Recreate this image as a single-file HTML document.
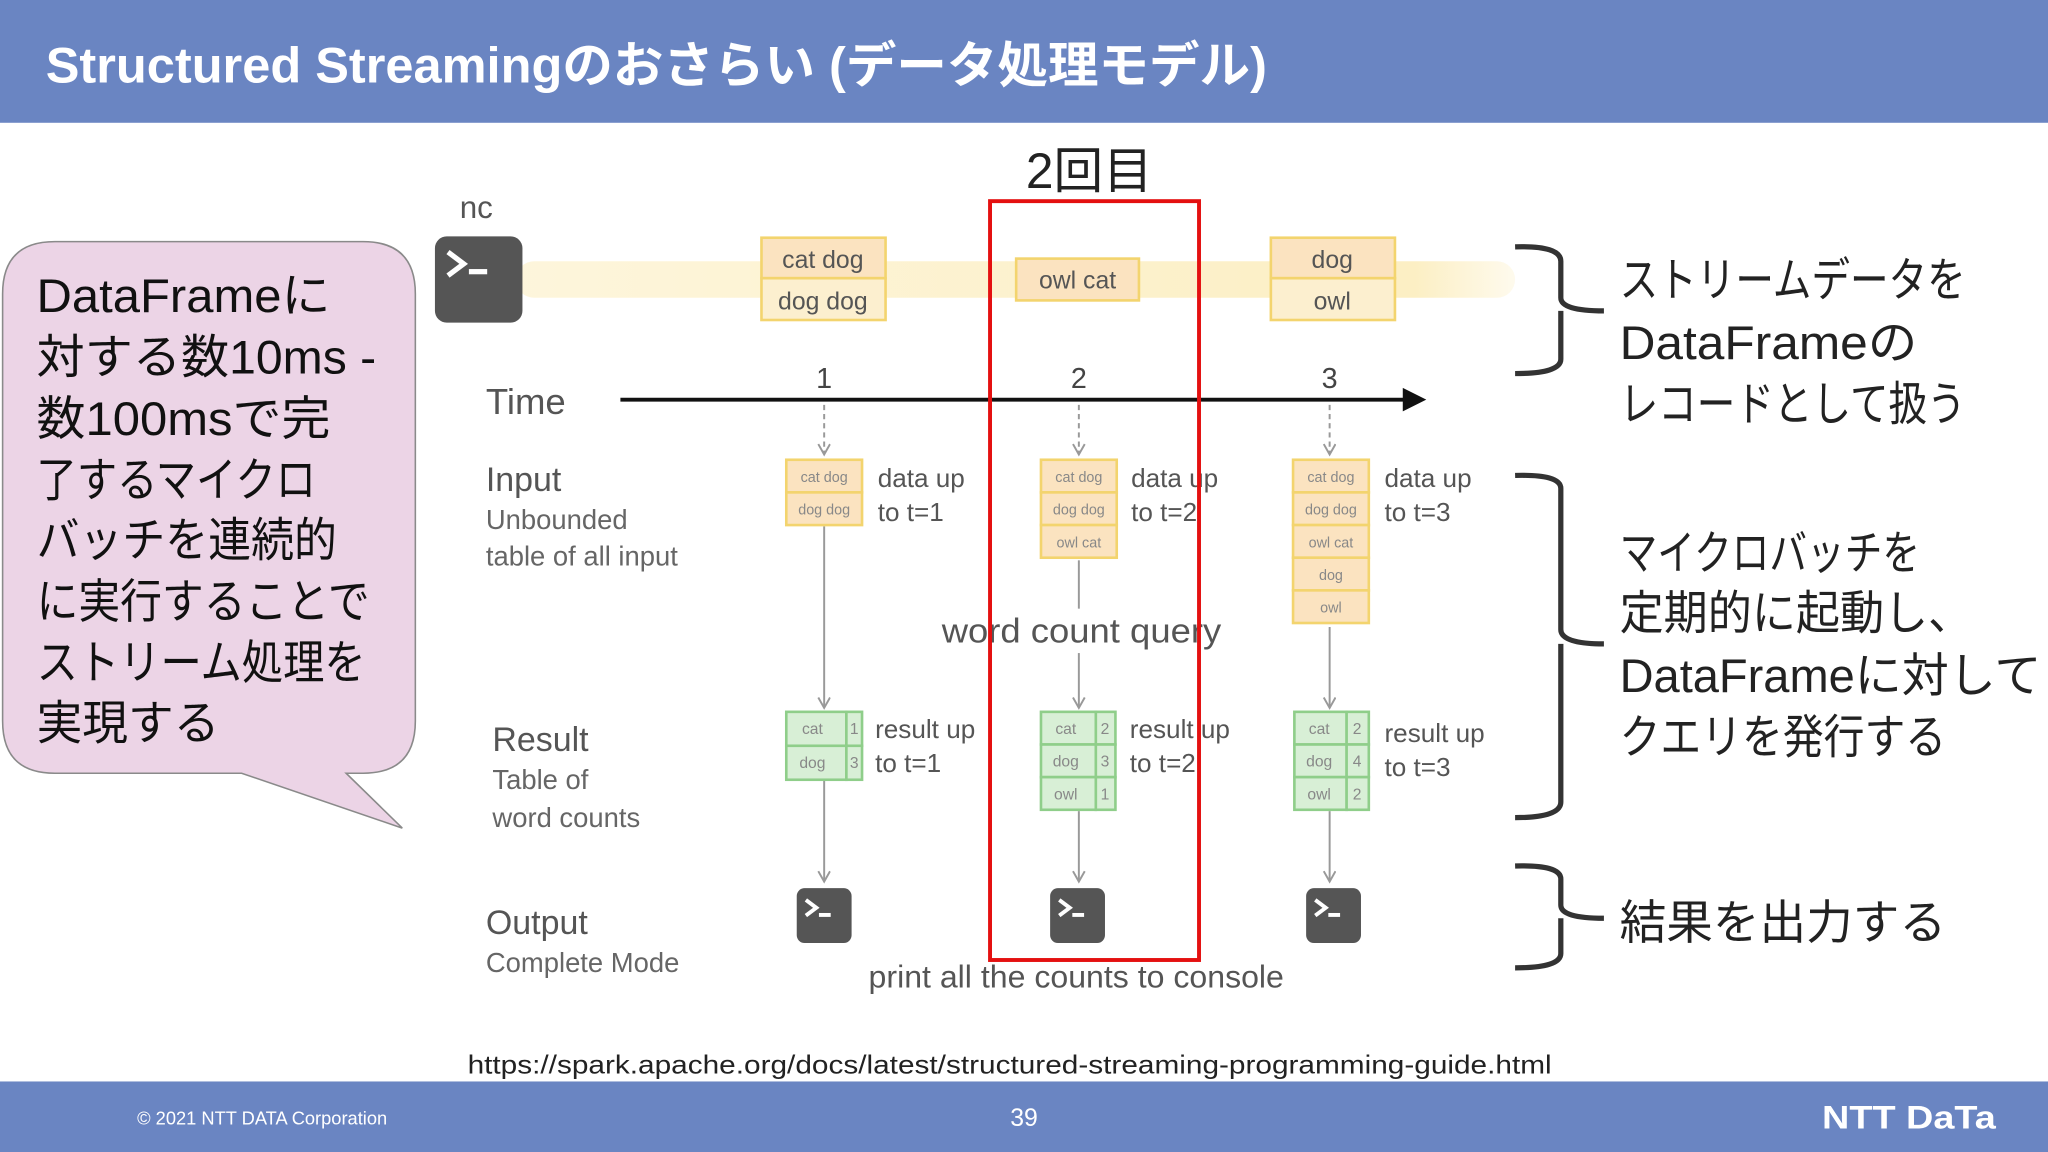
<!DOCTYPE html>
<html><head><meta charset="utf-8"><style>
html,body{margin:0;padding:0;background:#fff;}
svg{display:block;}
text{font-family:"Liberation Sans","Noto Sans CJK JP",sans-serif;}
</style></head><body>
<svg width="2048" height="1152" viewBox="0 0 1568 882" xmlns="http://www.w3.org/2000/svg">
<defs>
<marker id="ah" markerWidth="12" markerHeight="12" refX="9" refY="5" orient="auto" markerUnits="userSpaceOnUse">
<path d="M1,0.5 L9,5 L1,9.5" fill="none" stroke="#999" stroke-width="1.5"/>
</marker>
<linearGradient id="band" x1="0" x2="1" y1="0" y2="0">
<stop offset="0" stop-color="#fcefc4" stop-opacity="0.6"/>
<stop offset="0.9" stop-color="#fcefc4"/>
<stop offset="1" stop-color="#fcefc4" stop-opacity="0.3"/>
</linearGradient>
<g id="term"><rect x="0" y="0" width="42" height="42" rx="6" fill="#555"/><path d="M7,9 L15,15 L7,21" fill="none" stroke="#fff" stroke-width="3"/><rect x="17" y="19" width="9" height="3" fill="#fff"/></g>
</defs>
<rect width="1568" height="882" fill="#fff"/>
<rect x="0" y="0" width="1568" height="94" fill="#6a85c2"/>
<text x="35" y="63" font-size="38" font-weight="bold" fill="#fff" textLength="935" lengthAdjust="spacingAndGlyphs">Structured Streamingのおさらい (データ処理モデル)</text>
<rect x="0" y="828" width="1568" height="54" fill="#6a85c2"/>
<text x="105" y="861" font-size="14" fill="#fff">© 2021 NTT DATA Corporation</text>
<text x="784" y="862" font-size="19" fill="#fff" text-anchor="middle">39</text>
<text x="1395" y="864" font-size="25" font-weight="bold" fill="#fff" textLength="133" lengthAdjust="spacingAndGlyphs">NTT DaTa</text>
<text x="773" y="822" font-size="20" fill="#222" text-anchor="middle" textLength="830" lengthAdjust="spacingAndGlyphs">https://spark.apache.org/docs/latest/structured-streaming-programming-guide.html</text>
<path d="M42,185 H278 Q318,185 318,225 V552 Q318,592 278,592 H265 L308,634 L185,592 H42 Q2,592 2,552 V225 Q2,185 42,185 Z" fill="#ecd4e6" stroke="#8a8a8a" stroke-width="1.2"/>
<g font-size="36" fill="#111" lengthAdjust="spacingAndGlyphs">
<text x="28" y="239" textLength="225" lengthAdjust="spacingAndGlyphs">DataFrameに</text>
<text x="28" y="286" textLength="260" lengthAdjust="spacingAndGlyphs">対する数10ms -</text>
<text x="28" y="333" textLength="225" lengthAdjust="spacingAndGlyphs">数100msで完</text>
<text x="28" y="380" textLength="214" lengthAdjust="spacingAndGlyphs">了するマイクロ</text>
<text x="28" y="426" textLength="230" lengthAdjust="spacingAndGlyphs">バッチを連続的</text>
<text x="28" y="473" textLength="255" lengthAdjust="spacingAndGlyphs">に実行することで</text>
<text x="28" y="520" textLength="252" lengthAdjust="spacingAndGlyphs">ストリーム処理を</text>
<text x="28" y="566" textLength="140" lengthAdjust="spacingAndGlyphs">実現する</text>
</g>
<text x="352" y="167" font-size="24" fill="#555">nc</text>
<rect x="395" y="200" width="765" height="28" rx="14" fill="url(#band)"/>
<rect x="333" y="181" width="67" height="66" rx="9" fill="#555"/>
<path d="M343,193 L355,202 L343,211" fill="none" stroke="#fff" stroke-width="4"/>
<rect x="359" y="206" width="14" height="4" fill="#fff"/>
<g font-size="19" fill="#555" text-anchor="middle">
<rect x="583" y="182" width="95" height="31" fill="#fbe3c0" stroke="#f3d46e" stroke-width="2"/>
<rect x="583" y="213" width="95" height="32" fill="#fcefcf" stroke="#f3d46e" stroke-width="2"/>
<text x="630" y="205">cat dog</text><text x="630" y="237">dog dog</text>
<rect x="778" y="198" width="94" height="32" fill="#fbe3c0" stroke="#f3d46e" stroke-width="2"/>
<text x="825" y="221">owl cat</text>
<rect x="973" y="182" width="95" height="31" fill="#fbe3c0" stroke="#f3d46e" stroke-width="2"/>
<rect x="973" y="213" width="95" height="32" fill="#fcefcf" stroke="#f3d46e" stroke-width="2"/>
<text x="1020" y="205">dog</text><text x="1020" y="237">owl</text>
</g>
<text x="372" y="317" font-size="28" fill="#555">Time</text>
<line x1="475" y1="306" x2="1076" y2="306" stroke="#111" stroke-width="3"/>
<path d="M1074,297 L1092,306 L1074,315 Z" fill="#111"/>
<g font-size="22" fill="#444" text-anchor="middle">
<text x="631" y="297">1</text><text x="826" y="297">2</text><text x="1018" y="297">3</text>
</g>
<g stroke="#999" stroke-width="1.5">
<line x1="631" y1="310" x2="631" y2="348" stroke-dasharray="4,3" marker-end="url(#ah)"/>
<line x1="826" y1="310" x2="826" y2="348" stroke-dasharray="4,3" marker-end="url(#ah)"/>
<line x1="1018" y1="310" x2="1018" y2="348" stroke-dasharray="4,3" marker-end="url(#ah)"/>
<line x1="631" y1="403" x2="631" y2="542" marker-end="url(#ah)"/>
<line x1="826" y1="429" x2="826" y2="466"/>
<line x1="826" y1="500" x2="826" y2="542" marker-end="url(#ah)"/>
<line x1="1018" y1="480" x2="1018" y2="542" marker-end="url(#ah)"/>
<line x1="631" y1="598" x2="631" y2="675" marker-end="url(#ah)"/>
<line x1="826" y1="621" x2="826" y2="675" marker-end="url(#ah)"/>
<line x1="1018" y1="621" x2="1018" y2="675" marker-end="url(#ah)"/>
</g>
<g fill="#555">
<text x="372" y="376" font-size="26">Input</text>
<text x="372" y="405" font-size="21" fill="#666">Unbounded</text>
<text x="372" y="433" font-size="21" fill="#666">table of all input</text>
<text x="377" y="575" font-size="26">Result</text>
<text x="377" y="604" font-size="21" fill="#666">Table of</text>
<text x="377" y="633" font-size="21" fill="#666">word counts</text>
<text x="372" y="715" font-size="26">Output</text>
<text x="372" y="744" font-size="21" fill="#666">Complete Mode</text>
</g>
<g font-size="11" fill="#888" text-anchor="middle">
<g fill="#fbe3c0" stroke="#f3d46e" stroke-width="2">
<rect x="602" y="352" width="58" height="25"/><rect x="602" y="377" width="58" height="25"/>
<rect x="797" y="352" width="58" height="25"/><rect x="797" y="377" width="58" height="25"/><rect x="797" y="402" width="58" height="25"/>
<rect x="990" y="352" width="58" height="25"/><rect x="990" y="377" width="58" height="25"/><rect x="990" y="402" width="58" height="25"/><rect x="990" y="427" width="58" height="25"/><rect x="990" y="452" width="58" height="25"/>
</g>
<text x="631" y="369">cat dog</text><text x="631" y="394">dog dog</text>
<text x="826" y="369">cat dog</text><text x="826" y="394">dog dog</text><text x="826" y="419">owl cat</text>
<text x="1019" y="369">cat dog</text><text x="1019" y="394">dog dog</text><text x="1019" y="419">owl cat</text><text x="1019" y="444">dog</text><text x="1019" y="469">owl</text>
</g>
<g font-size="20" fill="#555">
<text x="672" y="373">data up</text><text x="672" y="399">to t=1</text>
<text x="866" y="373">data up</text><text x="866" y="399">to t=2</text>
<text x="1060" y="373">data up</text><text x="1060" y="399">to t=3</text>
<text x="670" y="565">result up</text><text x="670" y="591">to t=1</text>
<text x="865" y="565">result up</text><text x="865" y="591">to t=2</text>
<text x="1060" y="568">result up</text><text x="1060" y="594">to t=3</text>
</g>
<text x="828" y="492" font-size="26" fill="#555" text-anchor="middle" textLength="214" lengthAdjust="spacingAndGlyphs">word count query</text>
<g fill="#d8efd6" stroke="#8fce8a" stroke-width="2">
<rect x="602" y="545" width="46" height="26"/><rect x="648" y="545" width="12" height="26"/>
<rect x="602" y="571" width="46" height="26"/><rect x="648" y="571" width="12" height="26"/>
<rect x="797" y="545" width="42" height="25"/><rect x="839" y="545" width="15" height="25"/>
<rect x="797" y="570" width="42" height="25"/><rect x="839" y="570" width="15" height="25"/>
<rect x="797" y="595" width="42" height="25"/><rect x="839" y="595" width="15" height="25"/>
<rect x="991" y="545" width="40" height="25"/><rect x="1031" y="545" width="17" height="25"/>
<rect x="991" y="570" width="40" height="25"/><rect x="1031" y="570" width="17" height="25"/>
<rect x="991" y="595" width="40" height="25"/><rect x="1031" y="595" width="17" height="25"/>
</g>
<g font-size="12" fill="#888" text-anchor="middle">
<text x="622" y="562">cat</text><text x="654" y="562">1</text><text x="622" y="588">dog</text><text x="654" y="588">3</text>
<text x="816" y="562">cat</text><text x="846" y="562">2</text><text x="816" y="587">dog</text><text x="846" y="587">3</text><text x="816" y="612">owl</text><text x="846" y="612">1</text>
<text x="1010" y="562">cat</text><text x="1039" y="562">2</text><text x="1010" y="587">dog</text><text x="1039" y="587">4</text><text x="1010" y="612">owl</text><text x="1039" y="612">2</text>
</g>
<use href="#term" x="610" y="680"/>
<use href="#term" x="804" y="680"/>
<use href="#term" x="1000" y="680"/>
<text x="824" y="756" font-size="24" fill="#555" text-anchor="middle" textLength="318" lengthAdjust="spacingAndGlyphs">print all the counts to console</text>
<rect x="758" y="154" width="160" height="581" fill="none" stroke="#e41010" stroke-width="3"/>
<text x="834" y="144" font-size="38" fill="#222" text-anchor="middle">2回目</text>
<g fill="none" stroke="#333" stroke-width="4">
<path d="M1160,189 Q1195,188 1195,200 V228 Q1195,238 1228,238 M1195,238 Q1195,248 1195,250 V275 Q1195,286 1160,286"/>
<path d="M1160,364 Q1195,363 1195,374 V482 Q1195,493 1228,493 M1195,493 Q1195,504 1195,506 V614 Q1195,626 1160,626"/>
<path d="M1160,663 Q1195,662 1195,673 V693 Q1195,703 1228,703 M1195,703 Q1195,713 1195,715 V730 Q1195,741 1160,741"/>
</g>
<g font-size="36" fill="#222">
<text x="1240" y="227" textLength="265" lengthAdjust="spacingAndGlyphs">ストリームデータを</text>
<text x="1240" y="275" textLength="228" lengthAdjust="spacingAndGlyphs">DataFrameの</text>
<text x="1240" y="322" textLength="265" lengthAdjust="spacingAndGlyphs">レコードとして扱う</text>
<text x="1240" y="436" textLength="230" lengthAdjust="spacingAndGlyphs">マイクロバッチを</text>
<text x="1240" y="482" textLength="270" lengthAdjust="spacingAndGlyphs">定期的に起動し、</text>
<text x="1240" y="530" textLength="323" lengthAdjust="spacingAndGlyphs">DataFrameに対して</text>
<text x="1240" y="577" textLength="250" lengthAdjust="spacingAndGlyphs">クエリを発行する</text>
<text x="1240" y="719" textLength="250" lengthAdjust="spacingAndGlyphs">結果を出力する</text>
</g>
</svg>
</body></html>
